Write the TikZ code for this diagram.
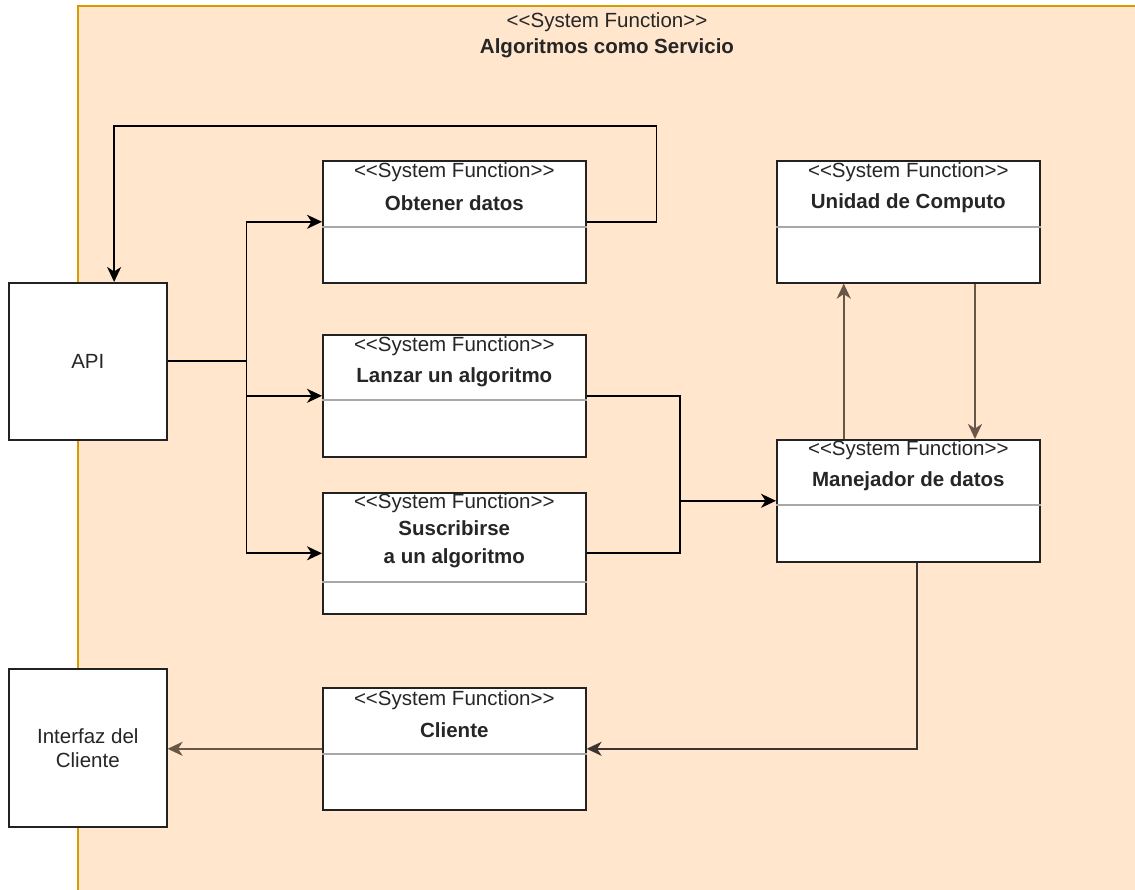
\documentclass[tikz,border=0pt]{standalone}
\usepackage{fontspec}
\setmainfont{Liberation Sans}
\usetikzlibrary{arrows.meta,calc}
\definecolor{pkgfill}{HTML}{FFE6CC}
\definecolor{pkgline}{HTML}{D79B00}
\definecolor{ink}{HTML}{222222}
\definecolor{txt}{HTML}{262626}
\definecolor{sepline}{HTML}{A8A8A8}
\definecolor{softline}{HTML}{685649}
\definecolor{darkline}{HTML}{3C3430}
\newcommand{\fs}{\fontsize{20.5}{24}\selectfont}
\newcommand{\sysfn}{<\kern0pt<System Function>\kern0pt>}
\tikzset{
  box/.style={draw=ink, line width=1.6pt, fill=white, rectangle, inner sep=0pt, anchor=north west},
  classbox/.style={box, minimum width=263pt, minimum height=122pt},
  actor/.style={box, minimum width=158pt, minimum height=157pt},
  stereo/.style={text=txt, font=\fs, inner sep=0pt},
  cname/.style={text=txt, font=\fs\bfseries, inner sep=0pt},
  tip/.style={-{Stealth[length=15pt,width=14pt,inset=4.5pt]}},
  conn/.style={draw=black, line width=1.7pt},
  soft/.style={draw=softline, line width=2.2pt},
  sep/.style={draw=sepline, line width=1.4pt},
}
\begin{document}
\begin{tikzpicture}[x=1pt,y=-1pt]
\useasboundingbox (0,0) rectangle (1135,890);
% package frame
\fill[pkgfill] (78,6) rectangle (1135,890);
\draw[pkgline, line width=1.4pt] (78,890) -- (78,6) -- (1135,6);
\node[stereo] (pkgst) at (607,22) {\sysfn};
\node[cname] (pkgname) at (607,48) {Algoritmos como Servicio};

% external boxes
\node[actor] (api) at (8,282) {};
\node[stereo, text=txt] (apit) at (api.center) {API};
\node[actor, minimum height=158pt] (int) at (8,668) {};
\node[stereo, align=center] (intt) at (int.center) {Interfaz del\\Cliente};

% system functions
\node[classbox] (obt) at (322,160) {};
\node[classbox] (lan) at (322,334) {};
\node[classbox, minimum height=121pt] (sus) at (322,492) {};
\node[classbox] (uni) at (776,160) {};
\node[classbox] (man) at (776,439) {};
\node[classbox] (cli) at (322,687) {};

% compartment separators
\draw[sep] ($(obt.north west)+(0,67)$) -- ($(obt.north east)+(0,67)$);
\draw[sep] ($(lan.north west)+(0,66)$) -- ($(lan.north east)+(0,66)$);
\draw[sep] ($(sus.north west)+(0,90)$) -- ($(sus.north east)+(0,90)$);
\draw[sep] ($(uni.north west)+(0,67)$) -- ($(uni.north east)+(0,67)$);
\draw[sep] ($(man.north west)+(0,66)$) -- ($(man.north east)+(0,66)$);
\draw[sep] ($(cli.north west)+(0,67)$) -- ($(cli.north east)+(0,67)$);

% labels
\node[stereo] (obts) at ($(obt.north)+(0,12)$) {\sysfn};
\node[cname] (obtn) at ($(obt.north)+(0,43)$) {Obtener datos};
\node[stereo] (lans) at ($(lan.north)+(0,12)$) {\sysfn};
\node[cname] (lann) at ($(lan.north)+(0,43)$) {Lanzar un algoritmo};
\node[stereo] (suss) at ($(sus.north)+(0,11)$) {\sysfn};
\node[cname] (susn1) at ($(sus.north)+(0,36)$) {Suscribirse};
\node[cname] (susn2) at ($(sus.north)+(0,66)$) {a un algoritmo};
\node[stereo] (unis) at ($(uni.north)+(0,12)$) {\sysfn};
\node[cname] (unin) at ($(uni.north)+(0,43)$) {Unidad de Computo};
\node[stereo] (mans) at ($(man.north)+(0,11)$) {\sysfn};
\node[cname] (mann) at ($(man.north)+(0,42)$) {Manejador de datos};
\node[stereo] (clis) at ($(cli.north)+(0,13)$) {\sysfn};
\node[cname] (clin) at ($(cli.north)+(0,43)$) {Cliente};

% connector anchors
\coordinate (apiin) at ($(api.north west)!0.665!(api.north east)$);
\coordinate (fork) at ($(api.east)+(79,0)$);
\coordinate (join) at ($(man.west)+(-96,0)$);
\coordinate (manup) at ($(man.north west)!0.256!(man.north east)$);
\coordinate (uniup) at ($(uni.south west)!0.256!(uni.south east)$);
\coordinate (unidn) at ($(uni.south west)!0.752!(uni.south east)$);
\coordinate (mandn) at ($(man.north west)!0.752!(man.north east)$);
\coordinate (manout) at ($(man.south west)!0.534!(man.south east)$);

% data flow
\draw[conn, tip] (obt.east) -- ++(70,0) -- ++(0,-96) -| (apiin);
\draw[conn] (api.east) -- (fork);
\draw[conn, tip] (fork) |- (obt.west);
\draw[conn, tip] (fork) |- (lan.west);
\draw[conn, tip] (fork) |- (sus.west);
\draw[conn] (lan.east) -| (join);
\draw[conn] (sus.east) -| (join);
\draw[conn, tip] (join) -- (man.west);
\draw[soft, tip] (manup) -- (uniup);
\draw[soft, tip] (unidn) -- (mandn);
\draw[draw=darkline, line width=2pt, tip] (manout) |- (cli.east);
\draw[soft, tip] (cli.west) -- (cli.west -| int.east);
\end{tikzpicture}
\end{document}
